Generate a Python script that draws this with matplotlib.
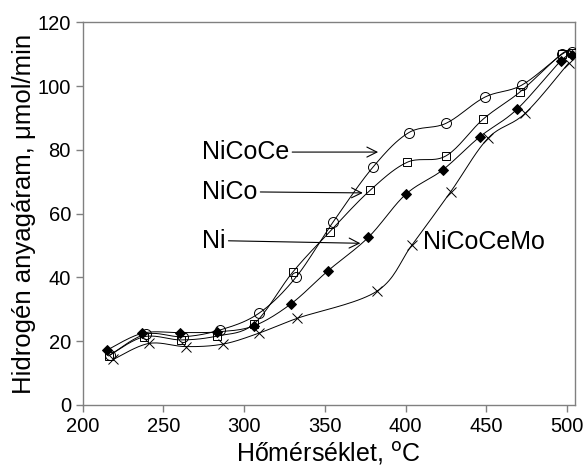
import matplotlib
matplotlib.use("Agg")
import matplotlib.pyplot as plt
import numpy as np

plt.rcParams['font.family'] = ['Liberation Sans', 'DejaVu Sans']

# NiCoCe (open circles)
nicoce_t = [217, 239, 262, 285, 309, 332, 355, 380, 402, 425, 449, 472, 497, 503]
nicoce_h2 = [15.7, 22.2, 21.4, 23.5, 28.7, 40.0, 57.3, 74.7, 85.4, 88.3, 96.5, 100.3, 110.0, 110.8]

# NiCo (open squares)
nico_t = [216, 238, 261, 283, 306, 330, 353, 378, 401, 425, 448, 471, 497, 503]
nico_h2 = [15.4, 21.4, 20.4, 21.6, 25.4, 41.6, 54.3, 67.3, 76.1, 78.1, 89.6, 98.2, 110.2, 110.5]

# Ni (filled diamonds)
ni_t = [215, 237, 260, 283, 306, 329, 352, 377, 400, 423, 446, 469, 496, 503]
ni_h2 = [17.2, 22.5, 22.7, 22.9, 24.8, 31.7, 42.1, 52.6, 66.0, 73.7, 84.1, 92.7, 107.8, 109.7]

# NiCoCeMo (crosses)
nicocemo_t = [219, 241, 264, 287, 309, 333, 382, 404, 428, 451, 474, 501]
nicocemo_h2 = [14.3, 19.3, 18.3, 19.1, 22.5, 27.2, 35.6, 50.2, 66.9, 83.6, 91.4, 107.2]

x_ticks = [200, 250, 300, 350, 400, 450, 500]
y_ticks = [0, 20, 40, 60, 80, 100, 120]


def smooth(xs, ys, n=20):
	# Catmull-Rom through the points (like Excel's smoothed line)
	p = np.column_stack([xs, ys]).astype(float)
	p = np.vstack([p[0], p, p[-1]])
	out = []
	t = np.linspace(0, 1, n)[:, None]
	for i in range(1, len(p) - 2):
		p0, p1, p2, p3 = p[i - 1], p[i], p[i + 1], p[i + 2]
		c1 = p1 + (p2 - p0) / 6
		c2 = p2 - (p3 - p1) / 6
		seg = ((1 - t) ** 3) * p1 + 3 * ((1 - t) ** 2) * t * c1 + 3 * (1 - t) * t ** 2 * c2 + t ** 3 * p2
		out.append(seg)
	out = np.vstack(out)
	return out[:, 0], out[:, 1]


def draw_series(ax, xs, ys, marker, filled, ms):
	sx, sy = smooth(xs, ys)
	ax.plot(sx, sy, color="black", lw=0.7, zorder=3)
	ax.plot(xs, ys, ls="none", marker=marker, ms=ms, mew=0.7,
		mec="black", mfc="black" if filled else "none", zorder=4)


def main():
	fig = plt.figure(figsize=(5.85, 4.73), dpi=100)
	ax = fig.add_axes([0.1414, 0.1438, 0.8416, 0.8091])

	draw_series(ax, nicocemo_t, nicocemo_h2, "x", False, 6.5)
	draw_series(ax, ni_t, ni_h2, "D", True, 5.5)
	draw_series(ax, nico_t, nico_h2, "s", False, 6)
	draw_series(ax, nicoce_t, nicoce_h2, "o", False, 7.2)

	ax.set_xlim(200, 505)
	ax.set_ylim(0, 120)
	ax.set_xticks(x_ticks)
	ax.set_yticks(y_ticks)
	ax.tick_params(direction="out", length=5, width=1, color="#808080",
		labelsize=14.5, labelcolor="black")
	for s in ax.spines.values():
		s.set_color("#808080")
		s.set_linewidth(1)

	ax.set_xlabel("Hőmérséklet, $^{\\mathrm{o}}$C", fontsize=18, labelpad=3)
	ax.set_ylabel("Hidrogén anyagáram, μmol/min", fontsize=18.5, labelpad=1)

	arrow = dict(arrowstyle="->", color="black", lw=0.8, shrinkA=0, shrinkB=0,
		relpos=(1, 0.5), mutation_scale=18)
	ax.annotate("NiCoCe", xy=(383, 79.3), xytext=(274, 79.3), fontsize=18,
		ha="left", va="center", arrowprops=arrow)
	ax.annotate("NiCo", xy=(373.5, 66.5), xytext=(274, 66.8), fontsize=18,
		ha="left", va="center", arrowprops=arrow)
	ax.annotate("Ni", xy=(372, 50.7), xytext=(274, 51.5), fontsize=18,
		ha="left", va="center", arrowprops=arrow)
	ax.text(411, 51.2, "NiCoCeMo", fontsize=18, ha="left", va="center")

	fig.savefig("out.png", dpi=100)


if __name__ == '__main__':
	main()
